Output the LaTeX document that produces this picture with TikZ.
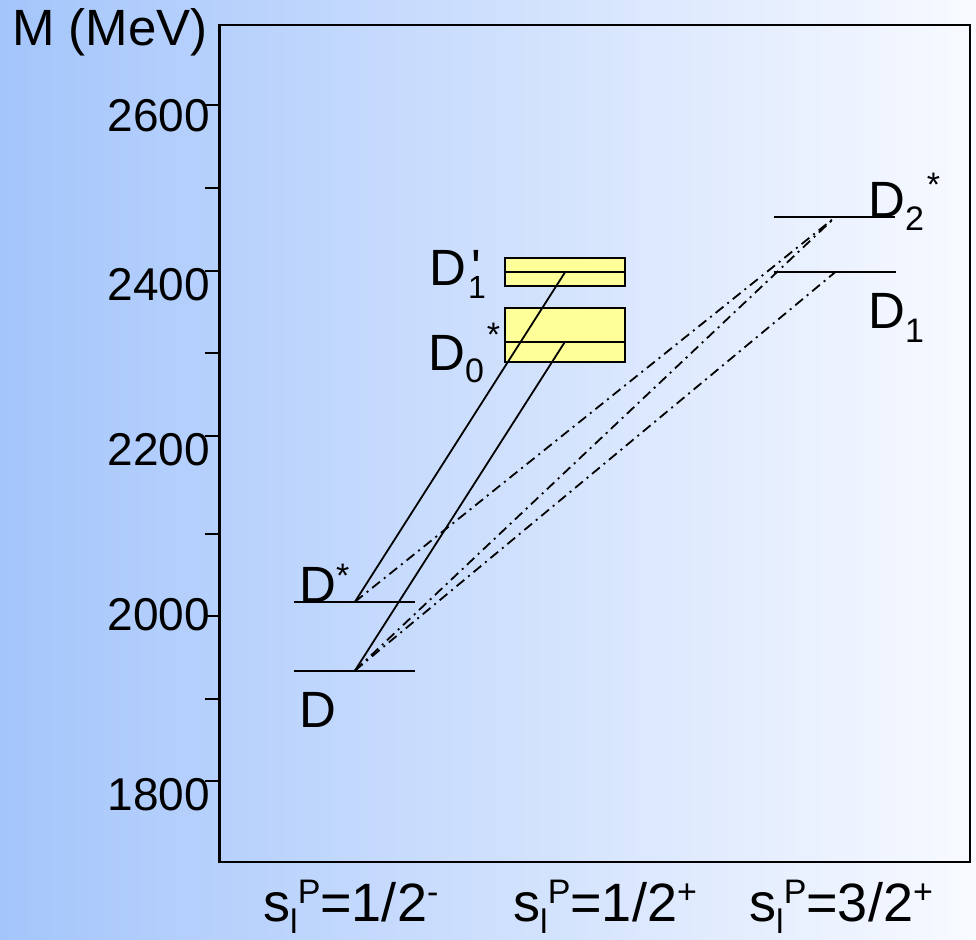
\documentclass[tikz,border=0pt]{standalone}
\usepackage{fontspec}
\setmainfont{Liberation Sans}
\newfontfamily\rawfont{Liberation Sans}
\definecolor{bgL}{RGB}{164,197,251}
\definecolor{bgM}{RGB}{226,235,253}
\definecolor{bgR}{RGB}{248,250,255}
\definecolor{boxY}{RGB}{255,255,153}
\newcommand\smallsz{\fontsize{34}{34}\selectfont}
\begin{document}
\begin{tikzpicture}[x=1pt,y=-1pt,
  lvl/.style={line width=2pt},
  trans/.style={line width=1.8pt},
  dd/.style={line width=1.8pt, dash pattern=on 10pt off 5pt on 2pt off 5pt},
  frame/.style={line width=2.4pt},
  tickmark/.style={line width=2pt},
  ticklab/.style={inner sep=0pt, anchor=base east, font=\fontsize{46}{46}\selectfont},
  lab/.style={inner sep=0pt, anchor=base west, font=\fontsize{51}{51}\selectfont},
  splab/.style={inner sep=0pt, anchor=base west, font=\fontsize{54}{54}\selectfont},
  ybox/.style={draw, line width=2.2pt, fill=boxY}]
\useasboundingbox (0,0) rectangle (976,939);
\shade[left color=bgL, middle color=bgM, right color=bgR] (0,0) rectangle (976,939);
% frame
\draw[frame] (219.5,25) rectangle (970,862);
% ticks
\foreach \yy in {105.3,188.3,270.7,353,436,533.7,616,698.7,781.3}
  \draw[tickmark] (205,\yy) -- (219.5,\yy);
\node[ticklab] (t2600) at (210,131.7) {2600};
\node[ticklab] (t2400) at (210,300) {2400};
\node[ticklab] (t2200) at (210,465) {2200};
\node[ticklab] (t2000) at (210,630.7) {2000};
\node[ticklab] (t1800) at (210,810.7) {1800};
\node[lab] (ylab) at (12,46) {M (MeV)};
% yellow boxes
\draw[ybox] (505,258.3) rectangle (625,285.7);
\draw[ybox] (505,307.7) rectangle (625,362.3);
% level coordinates
\coordinate (Da) at (294,670.5);   \coordinate (Db) at (415,670.5);
\coordinate (Dsa) at (294,601.7);  \coordinate (Dsb) at (415,601.7);
\coordinate (D1pa) at (505,272.3); \coordinate (D1pb) at (625,272.3);
\coordinate (D0a) at (505,341.7);  \coordinate (D0b) at (625,341.7);
\coordinate (D2a) at (774,217.3);  \coordinate (D2b) at (895,217.3);
\coordinate (D1a) at (774,272.3);  \coordinate (D1b) at (896,272.3);
\draw[lvl] (Da) -- (Db);
\draw[lvl] (Dsa) -- (Dsb);
\draw[lvl] (D1pa) -- (D1pb);
\draw[lvl] (D0a) -- (D0b);
\draw[lvl] (D2a) -- (D2b);
\draw[lvl] (D1a) -- (D1b);
% transition end points
\coordinate (pD) at (355,670.5);
\coordinate (pDs) at (355,601.7);
\coordinate (pD1p) at (565,272.3);
\coordinate (pD0) at (565,341.7);
\coordinate (pD2) at (835,217.3);
\coordinate (pD1) at (835,272.3);
\draw[trans] (pDs) -- (pD1p);
\draw[trans] (pD) -- (pD0);
\draw[dd] (pDs) -- (pD2);
\draw[dd] (pD) -- (pD2);
\draw[dd] (pD) -- (pD1);
% level labels
\node[lab] (lD) at (299,727) {D};
\node[lab] (lDs) at (299,602) {D\raisebox{15pt}{\smallsz *}};
\node[lab] (lD1p) at (429,285) {D\rlap{\hspace{6pt}{\rawfont\char"0027}}\hspace{2pt}\raisebox{-13pt}{\fontsize{32}{32}\selectfont 1}};
\node[lab] (lD0) at (428,370) {D\raisebox{-12pt}{\smallsz 0}\hspace{3pt}\raisebox{24pt}{\smallsz *}};
\node[lab] (lD2) at (868,217) {D\raisebox{-13pt}{\smallsz 2}\hspace{3pt}\raisebox{21pt}{\smallsz *}};
\node[lab] (lD1) at (868,328) {D\raisebox{-14pt}{\smallsz 1}};
% bottom labels
\node[splab] (s1) at (263,921) {s\raisebox{-12pt}{\smallsz l}\raisebox{18pt}{\smallsz P}=1/2\raisebox{18pt}{\smallsz -}};
\node[splab] (s2) at (513,921) {s\raisebox{-12pt}{\smallsz l}\raisebox{18pt}{\smallsz P}=1/2\raisebox{18pt}{\smallsz +}};
\node[splab] (s3) at (749,921) {s\raisebox{-12pt}{\smallsz l}\raisebox{18pt}{\smallsz P}=3/2\raisebox{18pt}{\smallsz +}};
\end{tikzpicture}
\end{document}
